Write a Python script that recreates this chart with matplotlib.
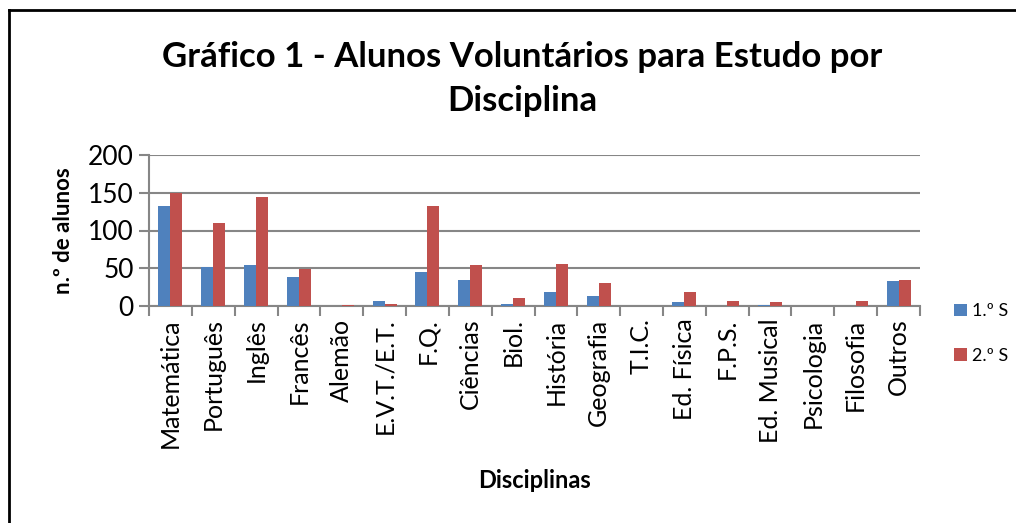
import matplotlib
matplotlib.use("Agg")
import matplotlib.pyplot as plt
import numpy as np
from matplotlib.lines import Line2D

categories = ["Matemática", "Português", "Inglês", "Francês", "Alemão", "E.V.T./E.T.",
              "F.Q.", "Ciências", "Biol.", "História", "Geografia", "T.I.C.",
              "Ed. Física", "F.P.S.", "Ed. Musical", "Psicologia", "Filosofia", "Outros"]
s1 = [132, 52, 54, 38, 0, 6, 45, 35, 2, 19, 13, 0, 5, 0, 1, 0, 0, 33]
s2 = [150, 110, 144, 49, 1, 3, 132, 54, 10, 56, 31, 0, 19, 6, 5, 0, 7, 35]
series_names = ["1.º S", "2.º S"]
yticks = [0, 50, 100, 150, 200]

plt.rcParams['font.family'] = ['Lato', 'DejaVu Sans']

W, H = 1016, 523
fig = plt.figure(figsize=(W / 100, H / 100), dpi=100)
ax = fig.add_axes([149 / W, 1 - 306 / H, (920 - 149) / W, (306 - 155) / H])

x = np.arange(len(categories))
bw = 0.28
b1 = ax.bar(x - bw / 2, s1, bw, color="#4F81BD", label=series_names[0], zorder=3)
b2 = ax.bar(x + bw / 2, s2, bw, color="#C0504D", label=series_names[1], zorder=3)

ax.set_xlim(-0.5, len(categories) - 0.5)
ax.set_ylim(0, 200)
ax.set_yticks(yticks)
ax.yaxis.grid(True, color="#868686", linewidth=1.5, zorder=0)
ax.set_axisbelow(True)

ax.set_xticks(x)
ax.set_xticklabels(categories, rotation=90, fontsize=18)
ax.tick_params(axis="x", which="major", length=0, pad=9)
ax.set_xticks(np.arange(-0.5, len(categories), 1.0), minor=True)
ax.tick_params(axis="x", which="minor", length=7, width=1.5, color="#868686")
ax.tick_params(axis="y", length=7, width=1.5, color="#868686", labelsize=19, pad=4)

for s in ["top", "right"]:
    ax.spines[s].set_visible(False)
for s in ["left", "bottom"]:
    ax.spines[s].set_color("#868686")
    ax.spines[s].set_linewidth(1.5)

ax.set_ylabel("n.º de alunos", fontsize=16, fontweight="bold", labelpad=10)
ax.set_xlabel("Disciplinas", fontsize=17, fontweight="bold", labelpad=15)

fig.text(522 / W, 1 - 57 / H, "Gráfico 1 - Alunos Voluntários para Estudo por",
         ha="center", va="center", fontsize=25, fontweight="bold")
fig.text(522 / W, 1 - 101 / H, "Disciplina",
         ha="center", va="center", fontsize=25, fontweight="bold")

leg = fig.legend(handles=[b1, b2], labels=series_names, loc="upper left",
                 bbox_to_anchor=(938 / W, 1 - 287 / H), frameon=False,
                 fontsize=13, handlelength=0.7, handleheight=0.7, handletextpad=0.3,
                 labelspacing=1.6)

fig.add_artist(Line2D([9 / W, 9 / W], [0, 1 - 10 / H], color="black", linewidth=2,
                      transform=fig.transFigure))
fig.add_artist(Line2D([9 / W, 1], [1 - 10 / H, 1 - 10 / H], color="black", linewidth=2,
                      transform=fig.transFigure))

fig.savefig("out.png", dpi=100)
